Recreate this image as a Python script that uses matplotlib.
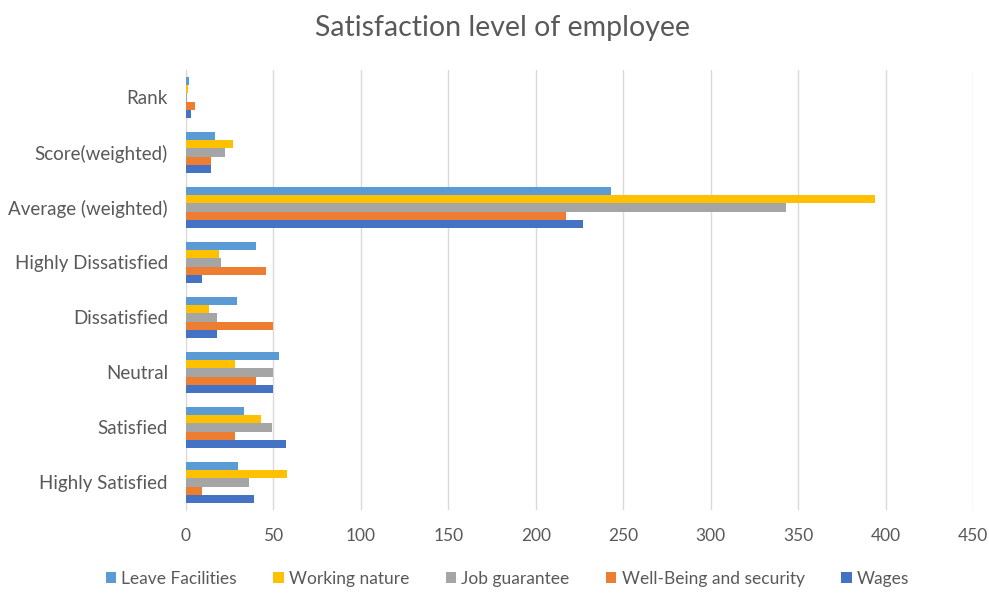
import matplotlib.pyplot as plt
import numpy as np

categories = ["Highly Satisfied", "Satisfied", "Neutral", "Dissatisfied",
              "Highly Dissatisfied", "Average (weighted)", "Score(weighted)", "Rank"]

leave_facilities = [30, 33, 53, 29, 40, 243, 16.5, 2]
working_nature = [58, 43, 28, 13, 19, 394, 27, 1]
job_guarantee = [36, 49, 50, 18, 20, 343, 22.5, 0.6]
well_being = [9, 28, 40, 50, 46, 217, 14.5, 5]
wages = [39, 57, 50, 18, 9, 227, 14.5, 3]

series = [
    ("Leave Facilities", leave_facilities, "#5B9BD5"),
    ("Working nature", working_nature, "#FFC000"),
    ("Job guarantee", job_guarantee, "#A5A5A5"),
    ("Well-Being and security", well_being, "#ED7D31"),
    ("Wages", wages, "#4472C4"),
]

plt.rcParams['font.family'] = ['Lato', 'DejaVu Sans']
txt = "#595959"

fig = plt.figure(figsize=(9.89, 5.93), dpi=100)
ax = fig.add_axes([0.188, 0.14, 0.796, 0.742])

y = np.arange(len(categories))
h = 0.15
for k, (name, vals, col) in enumerate(series):
    ax.barh(y + (2 - k) * h, vals, height=h, color=col, label=name, zorder=3)

ax.set_xlim(0, 450)
ax.set_ylim(-0.5, len(categories) - 0.5)
ax.set_xticks(np.arange(0, 451, 50))
ax.set_yticks(y, labels=categories)
ax.grid(axis="x", color="#d9d9d9", linewidth=1, zorder=0)
for s in ["top", "right", "bottom"]:
    ax.spines[s].set_visible(False)
ax.spines["left"].set_color("#d9d9d9")
ax.tick_params(axis="y", length=0, labelsize=13.5, colors=txt, pad=13)
ax.tick_params(axis="x", length=0, labelsize=12.5, colors=txt, pad=13)

fig.suptitle("Satisfaction level of employee", x=0.508, y=0.975, fontsize=20.5, color=txt)
fig.legend(loc="lower center", ncol=5, bbox_to_anchor=(0.513, -0.016), frameon=False,
           fontsize=12.5, labelcolor=txt, handlelength=0.6, handleheight=0.6,
           handletextpad=0.3, columnspacing=2.1)

fig.savefig("out.png", dpi=100)
